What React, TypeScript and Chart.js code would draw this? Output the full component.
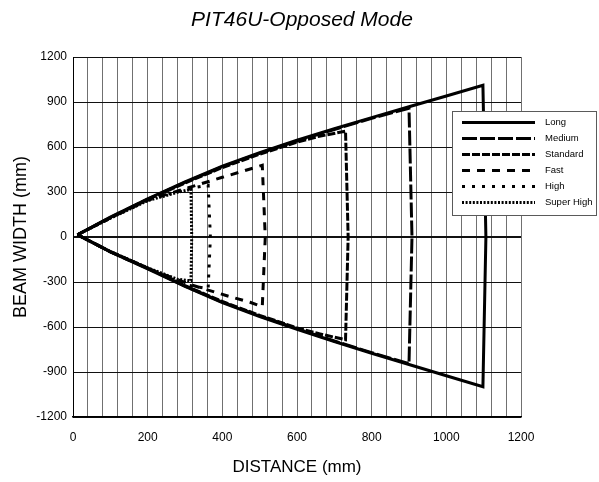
import React, { useEffect, useRef } from 'react';
import { Chart, registerables } from 'chart.js';

Chart.register(...registerables);

const FONT = "'Liberation Sans', Arial, Helvetica, sans-serif";

const TITLE = 'PIT46U-Opposed Mode';
const X_TITLE = 'DISTANCE (mm)';
const Y_TITLE = 'BEAM WIDTH (mm)';
const SERIES_LABELS = ['Long', 'Medium', 'Standard', 'Fast', 'High', 'Super High'];

const X_MIN = 0;
const X_MAX = 1200;
const X_STEP = 40;
const X_LABEL_EVERY = 200;
const Y_MIN = -1200;
const Y_MAX = 1200;
const Y_STEP = 300;

const LONG_X = [12, 100, 200, 300, 400, 500, 600, 700, 800, 900, 1000, 1098, 1106, 1098, 1000, 900, 800, 700, 600, 500, 400, 300, 200, 100, 12];
const LONG_Y = [15, 132, 255, 368, 472, 562, 645, 722, 796, 868, 940, 1011, 0, -998, -925, -850, -775, -697, -615, -530, -438, -330, -212, -100, 15];

const MEDIUM_X = [12, 100, 200, 300, 400, 500, 600, 700, 800, 900, 908, 900, 800, 700, 600, 500, 400, 300, 200, 100, 12];
const MEDIUM_Y = [15, 130, 252, 364, 468, 558, 640, 717, 791, 858, 0, -845, -771, -693, -611, -526, -434, -327, -209, -98, 15];

const STANDARD_X = [12, 100, 200, 300, 400, 500, 600, 660, 730, 737, 730, 660, 600, 500, 400, 300, 200, 100, 12];
const STANDARD_Y = [15, 129, 250, 360, 463, 552, 632, 672, 705, 0, -685, -645, -606, -522, -430, -324, -207, -97, 15];

const FAST_X = [12, 100, 200, 300, 400, 470, 507, 515, 507, 474, 410, 320, 200, 100, 12];
const FAST_Y = [15, 127, 245, 322, 398, 450, 478, 0, -465, -435, -390, -322, -210, -99, 15];

const HIGH_X = [12, 100, 200, 300, 362, 368, 362, 300, 200, 100, 12];
const HIGH_Y = [15, 126, 248, 318, 345, 0, -345, -318, -208, -98, 15];

const SUPER_HIGH_X = [12, 100, 200, 280, 316, 318, 316, 280, 200, 100, 12];
const SUPER_HIGH_Y = [15, 125, 242, 298, 318, 0, -292, -282, -205, -97, 15];

const SERIES_X = [LONG_X, MEDIUM_X, STANDARD_X, FAST_X, HIGH_X, SUPER_HIGH_X];
const SERIES_Y = [LONG_Y, MEDIUM_Y, STANDARD_Y, FAST_Y, HIGH_Y, SUPER_HIGH_Y];

const SERIES_DASH: number[][] = [[], [15, 3], [8, 2], [8, 7], [3, 7], [2, 1.6]];
const SERIES_WIDTH = [3, 3, 3, 3, 3, 3];

const titlePlugin = {
  id: 'fixedTitle',
  afterDraw(chart: any) {
    const ctx = chart.ctx as CanvasRenderingContext2D;
    ctx.save();
    ctx.fillStyle = '#000';
    ctx.font = `italic 21px ${FONT}`;
    ctx.textAlign = 'center';
    ctx.textBaseline = 'middle';
    ctx.fillText(TITLE, 302, 20);
    ctx.restore();
  },
};

const boxLegend = {
  id: 'boxLegend',
  afterDatasetsDraw(chart: any) {
    const ctx = chart.ctx as CanvasRenderingContext2D;
    const area = chart.chartArea;
    const left = area.right - 69;
    const top = area.top + 54;
    const w = 144;
    const h = 104;
    ctx.save();
    ctx.setLineDash([]);
    ctx.fillStyle = '#ffffff';
    ctx.fillRect(left, top, w, h);
    ctx.strokeStyle = '#5a5a5a';
    ctx.lineWidth = 1;
    ctx.strokeRect(left + 0.5, top + 0.5, w, h);
    chart.data.datasets.forEach((ds: any, i: number) => {
      const y = top + 11.5 + i * 16;
      ctx.setLineDash(ds.borderDash || []);
      ctx.lineWidth = ds.borderWidth;
      ctx.strokeStyle = '#000';
      ctx.lineCap = 'butt';
      ctx.beginPath();
      ctx.moveTo(left + 10, y);
      ctx.lineTo(left + 83, y);
      ctx.stroke();
      ctx.setLineDash([]);
      ctx.fillStyle = '#000';
      ctx.font = `9.5px ${FONT}`;
      ctx.textBaseline = 'middle';
      ctx.textAlign = 'left';
      ctx.fillText(ds.label, left + 93, y);
    });
    ctx.restore();
  },
};

export default function App() {
  const ref = useRef<HTMLCanvasElement | null>(null);

  useEffect(() => {
    if (!ref.current) return;
    const datasets = SERIES_LABELS.map((label, i) => ({
      label,
      data: SERIES_X[i].map((x, j) => ({ x, y: SERIES_Y[i][j] })),
      borderColor: '#000',
      backgroundColor: 'transparent',
      borderWidth: SERIES_WIDTH[i],
      borderDash: SERIES_DASH[i],
      pointRadius: 0,
      fill: false,
      tension: 0,
    }));

    const chart = new Chart(ref.current, {
      type: 'line',
      data: { datasets },
      plugins: [boxLegend, titlePlugin],
      options: {
        animation: false,
        responsive: false,
        devicePixelRatio: 1,
        layout: { padding: { left: 0, right: 78, top: 57, bottom: 0 } },
        plugins: {
          legend: { display: false },
          tooltip: { enabled: false },
          title: { display: false },
        },
        scales: {
          x: {
            type: 'linear',
            min: X_MIN,
            max: X_MAX,
            afterFit: (scale: any) => {
              scale.height = 65;
            },
            ticks: {
              stepSize: X_STEP,
              autoSkip: false,
              maxRotation: 0,
              minRotation: 0,
              padding: 13,
              color: '#000',
              font: { family: FONT, size: 12 },
              callback: (v: any) => (Number(v) % X_LABEL_EVERY === 0 ? String(v) : ''),
            },
            grid: {
              color: '#707070',
              lineWidth: 1,
              drawTicks: false,
            },
            border: { color: '#000', width: 1.5 },
            title: {
              display: true,
              text: X_TITLE,
              color: '#000',
              font: { family: FONT, size: 17 },
              padding: { top: 0, bottom: 4 },
            },
          },
          y: {
            type: 'linear',
            min: Y_MIN,
            max: Y_MAX,
            afterFit: (scale: any) => {
              scale.width = 73;
            },
            ticks: {
              stepSize: Y_STEP,
              padding: 6,
              color: '#000',
              font: { family: FONT, size: 12 },
              callback: (v: any) => String(v),
            },
            grid: {
              color: '#111',
              lineWidth: (c: any) => (c.tick && c.tick.value === 0 ? 2 : 1),
              drawTicks: false,
            },
            border: { color: '#000', width: 1 },
            title: {
              display: true,
              text: Y_TITLE,
              color: '#000',
              font: { family: FONT, size: 18 },
              padding: { top: 10, bottom: 0 },
            },
          },
        },
      },
    });
    return () => chart.destroy();
  }, []);

  return (
    <div style={{ position: 'absolute', left: 0, top: 0, width: 599, height: 482, background: '#fff' }}>
      <canvas ref={ref} width={599} height={482} />
    </div>
  );
}
